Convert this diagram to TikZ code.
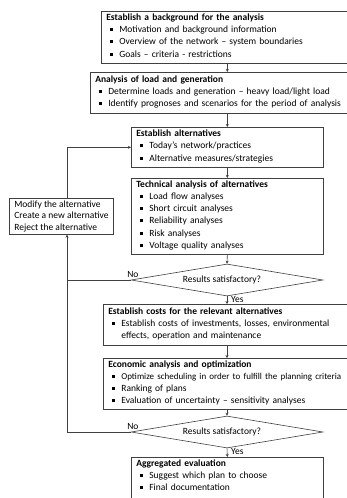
\documentclass[tikz,border=0pt]{standalone}
\usepackage{fontspec}
\setmainfont{Carlito}
\usetikzlibrary{arrows.meta,shapes.geometric,calc}
\newlength{\bulw}\setlength{\bulw}{13pt}
\newcommand{\bl}[1]{\par\noindent\makebox[\bulw][l]{\hspace{4pt}\rule[1.5pt]{3pt}{3pt}}\parbox[t]{\dimexpr\linewidth-\bulw\relax}{\raggedright #1\strut}}
\tikzset{
  x=1pt, y=1pt,
  box/.style={draw=black!75, line width=0.7pt, anchor=north west, inner xsep=5pt, inner ysep=2pt,
    align=left, font=\fontsize{9.5}{12.3}\selectfont},
  dec/.style={diamond, draw=black!75, line width=0.6pt, aspect=6, inner sep=0pt,
    minimum width=192pt, minimum height=32pt, font=\fontsize{9.5}{12}\selectfont},
  lab/.style={inner sep=1pt, font=\fontsize{9.5}{12}\selectfont},
  conn/.style={draw=black!75, line width=0.6pt},
  arr/.style={conn, -{Stealth[length=3pt,width=3pt]}}
}
\begin{document}
\begin{tikzpicture}
\clip (0,0) rectangle (347,-498);
\fill[white] (0,0) rectangle (347,-498);

\node[box, text width=260pt, minimum height=52pt] (b1) at (101,-11)
  {\textbf{Establish a background for the analysis}
   \bl{Motivation and background information}
   \bl{Overview of the network – system boundaries}
   \bl{Goals – criteria - restrictions}};

\node[box, text width=270pt, minimum height=41pt] (b2) at (90,-72)
  {\textbf{Analysis of load and generation}
   \bl{Determine loads and generation – heavy load/light load}
   \bl{Identify prognoses and scenarios for the period of analysis}};

\node[box, text width=182pt, minimum height=40pt] (b3) at (131,-127)
  {\textbf{Establish alternatives}
   \bl{Today’s network/practices}
   \bl{Alternative measures/strategies}};

\node[box, text width=182pt, minimum height=76pt] (b4) at (131,-178)
  {\textbf{Technical analysis of alternatives}
   \bl{Load flow analyses}
   \bl{Short circuit analyses}
   \bl{Reliability analyses}
   \bl{Risk analyses}
   \bl{Voltage quality analyses}};

\node[dec] (d1) at (227,-280) {\hspace*{-10pt}Results satisfactory?};

\node[box, text width=260pt, minimum height=41pt] (b5) at (103,-304)
  {\textbf{Establish costs for the relevant alternatives}
   \bl{Establish costs of investments, losses, environmental\\effects, operation and maintenance}};

\node[box, text width=260pt, minimum height=50pt] (b6) at (103,-358)
  {\textbf{Economic analysis and optimization}
   \bl{\fontsize{9}{12.3}\selectfont Optimize scheduling in order to fulfill the planning criteria}
   \bl{Ranking of plans}
   \bl{Evaluation of uncertainty – sensitivity analyses}};

\node[dec] (d2) at (227,-432) {\hspace*{-10pt}Results satisfactory?};

\node[box, text width=182pt] (b7) at (131,-457)
  {\textbf{Aggregated evaluation}
   \bl{Suggest which plan to choose}
   \bl{Final documentation}\par\mbox{}};

\node[box, inner xsep=5pt, minimum height=36pt, font=\fontsize{9.5}{11.7}\selectfont] (m) at (9,-198)
  {Modify the alternative\\Create a new alternative\\Reject the alternative};

\coordinate (mx) at (67,0);

% main flow
\draw[arr] (b1.south -| b3) -- (b2.north -| b3);
\draw[arr] (b2.south -| b3) -- (b3.north);
\draw[arr] (b3.south) -- (b4.north);
\draw[arr] (b4.south) -- (d1.north);
\draw[arr] (d1.south) -- (b5.north -| d1);
\draw[arr] (b5.south -| d1) -- (b6.north -| d1);
\draw[arr] (b6.south -| d1) -- (d2.north);
\draw[arr] (d2.south) -- (b7.north);

% loop back
\draw[conn] (d1.west) -- (d1.west -| mx);
\draw[arr] (d2.west) -| (m.south -| mx);
\draw[arr] (m.north -| mx) |- (b3.west);

% labels
\node[lab, anchor=south east] (n1) at ($(d1.west)+(9,1)$) {No};
\node[lab, anchor=south east] (n2) at ($(d2.west)+(9,1)$) {No};
\node[lab, anchor=west] (y1) at ($(d1.south)+(3,-3)$) {Yes};
\node[lab, anchor=west] (y2) at ($(d2.south)+(3,-3)$) {Yes};
\end{tikzpicture}
\end{document}
